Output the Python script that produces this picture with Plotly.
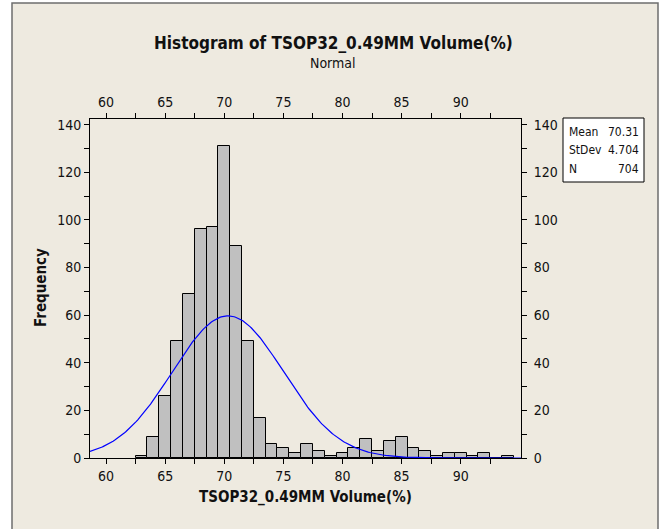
import numpy as np
import plotly.graph_objects as go

# ---- data ----
bin_centers = [63, 64, 65, 66, 67, 68, 69, 70, 71, 72, 73, 74, 75, 76, 77, 78, 79,
               80, 81, 82, 83, 84, 85, 86, 87, 88, 89, 90, 91, 92, 93, 94]
frequencies = [1, 9, 26, 49, 69, 96, 97, 131, 89, 49, 17, 6, 4, 2, 6, 3, 1,
               2, 4, 8, 3, 7, 9, 4, 3, 1, 2, 2, 1, 2, 0, 1]
MEAN = 70.31
STDEV = 4.704
N = 704
BIN_WIDTH = 1.0
x_ticks = [60, 65, 70, 75, 80, 85, 90]
y_ticks = [0, 20, 40, 60, 80, 100, 120, 140]

XR = [58.64, 95.1]
YR = [0, 142.4]

# fitted normal curve from the displayed statistics
xc = np.linspace(XR[0], XR[1], 300)
yc = N * BIN_WIDTH * np.exp(-0.5 * ((xc - MEAN) / STDEV) ** 2) / (STDEV * np.sqrt(2 * np.pi))

FONT = "DejaVu Sans Condensed, Liberation Sans Narrow, sans-serif"
BG = "#EEEAE0"

fig = go.Figure()
fig.add_trace(go.Bar(x=bin_centers, y=frequencies, width=BIN_WIDTH,
                     marker=dict(color="#C0C0C0", line=dict(color="black", width=1)),
                     showlegend=False, hoverinfo="x+y"))
fig.add_trace(go.Scatter(x=xc, y=yc, mode="lines", line=dict(color="#0000FF", width=1.2),
                         showlegend=False))
# invisible trace to activate top / right axes
fig.add_trace(go.Scatter(x=[XR[0]], y=[0], xaxis="x2", yaxis="y2", mode="markers",
                         marker=dict(opacity=0), showlegend=False, hoverinfo="skip"))

L, R, T, B = 90, 140, 119, 71
W, H = 661, 529
pw, ph = W - L - R, H - T - B

def px(x):
    return (x - L) / pw

def py(y):
    return (H - B - y) / ph

def axis_common(size=14):
    return dict(showgrid=False, zeroline=False, showline=True, linecolor="black",
                linewidth=1, ticks="outside", ticklen=5, tickcolor="black",
                tickfont=dict(family=FONT, size=size, color="#111"))

fig.update_layout(
    width=W, height=H,
    margin=dict(l=L, r=R, t=T, b=B),
    paper_bgcolor="white",
    plot_bgcolor="white",
    bargap=0,
    xaxis=dict(range=XR, tickvals=x_ticks,
               minor=dict(tickvals=[x + 2.5 for x in x_ticks], ticks="outside", ticklen=5,
                          tickcolor="black"),
               **axis_common()),
    xaxis2=dict(range=XR, overlaying="x", side="top", tickvals=x_ticks,
                minor=dict(tickvals=[x + 2.5 for x in x_ticks], ticks="outside", ticklen=5,
                           tickcolor="black"),
                **axis_common()),
    yaxis=dict(range=YR, tickvals=y_ticks,
               minor=dict(tickvals=[y + 10 for y in y_ticks[:-1]], ticks="outside",
                          ticklen=5, tickcolor="black"),
               **axis_common()),
    yaxis2=dict(range=YR, overlaying="y", side="right", tickvals=y_ticks,
                ticklabelstandoff=4,
                minor=dict(tickvals=[y + 10 for y in y_ticks[:-1]], ticks="outside",
                           ticklen=5, tickcolor="black"),
                **axis_common()),
    shapes=[
        dict(type="rect", xref="paper", yref="paper", layer="below",
             x0=px(12), x1=px(658), y0=py(540), y1=py(3),
             fillcolor=BG, line=dict(color="#6E6E6E", width=1.5)),
        dict(type="rect", xref="paper", yref="paper",
             x0=px(563), x1=px(644), y0=py(182), y1=py(118),
             fillcolor="white", line=dict(color="black", width=1)),
    ],
    annotations=[
        dict(text="<b>Histogram of TSOP32_0.49MM Volume(%)</b>", xref="paper", yref="paper",
             x=px(333), y=py(43), showarrow=False, xanchor="center", yanchor="middle",
             font=dict(family=FONT, size=17, color="#111")),
        dict(text="Normal", xref="paper", yref="paper",
             x=px(333), y=py(63), showarrow=False, xanchor="center", yanchor="middle",
             font=dict(family=FONT, size=14, color="#111")),
        dict(text="<b>TSOP32_0.49MM Volume(%)</b>", xref="paper", yref="paper",
             x=px(305), y=py(497), showarrow=False, xanchor="center", yanchor="middle",
             font=dict(family=FONT, size=15, color="#111")),
        dict(text="<b>Frequency</b>", xref="paper", yref="paper", textangle=-90,
             x=px(41), y=py(288), showarrow=False, xanchor="center", yanchor="middle",
             font=dict(family=FONT, size=15, color="#111")),
    ],
)

stat_labels = ["Mean", "StDev", "N"]
stat_values = [f"{MEAN:.2f}", f"{STDEV:.3f}", f"{N}"]
row_y = [132, 150, 169]
for lab, val, yy in zip(stat_labels, stat_values, row_y):
    fig.add_annotation(text=lab, xref="paper", yref="paper", x=px(567), y=py(yy),
                       xanchor="left", yanchor="middle", showarrow=False,
                       font=dict(family=FONT, size=12, color="#111"))
    fig.add_annotation(text=val, xref="paper", yref="paper", x=px(641), y=py(yy),
                       xanchor="right", yanchor="middle", showarrow=False,
                       font=dict(family=FONT, size=12, color="#111"))

fig.write_html("out.html")
